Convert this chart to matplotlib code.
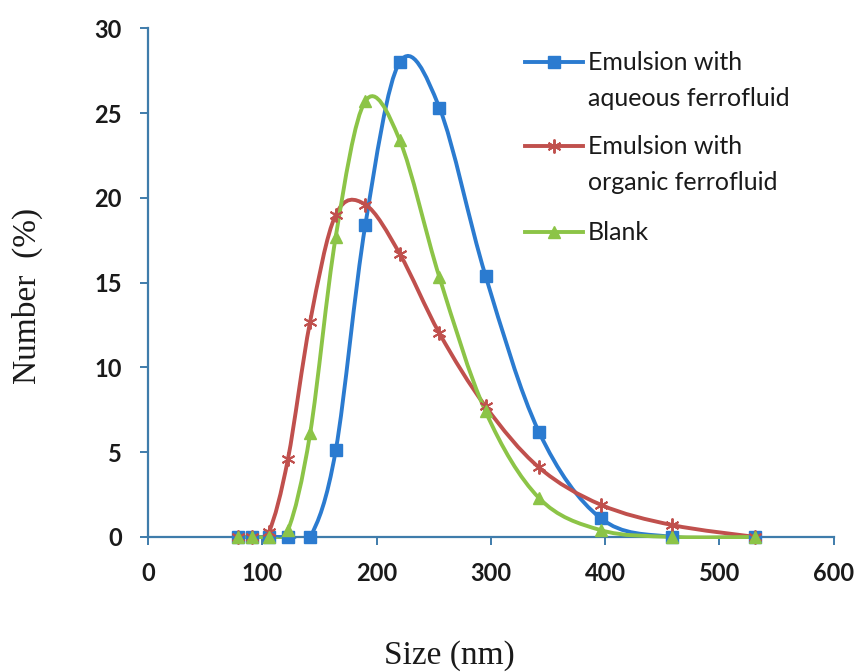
import matplotlib
matplotlib.use('Agg')
import matplotlib.pyplot as plt
from matplotlib.path import Path
from matplotlib.patches import PathPatch, Rectangle

# DLS size bins (nm) and number distributions (%)
sizes = [78.8, 91.3, 105.7, 122.4, 141.8, 164.2, 190.1, 220.2, 255.0, 295.3, 342.0, 396.1, 458.7, 531.2]
aqueous = [0, 0, 0, 0, 0, 5.1, 18.4, 28.0, 25.3, 15.4, 6.2, 1.1, 0, 0]
organic = [0, 0, 0.3, 4.6, 12.7, 19.0, 19.6, 16.7, 12.0, 7.7, 4.1, 1.9, 0.7, 0]
blank = [0, 0, 0, 0.4, 6.1, 17.7, 25.7, 23.4, 15.3, 7.4, 2.3, 0.4, 0, 0]

labels = ['Emulsion with\naqueous ferrofluid', 'Emulsion with\norganic ferrofluid', 'Blank']
colors = ['#2b7bd0', '#c0504d', '#8cc447']
markers = ['s', (6, 2, 0), '^']

axis_color = '#3f7cab'


def smooth_path(xs, ys):
    # Excel-style smoothed line: cubic Bezier through every point
    pts = list(zip(xs, ys))
    verts = [pts[0]]
    codes = [Path.MOVETO]
    n = len(pts)
    for i in range(n - 1):
        p0 = pts[i - 1] if i > 0 else pts[i]
        p1 = pts[i]
        p2 = pts[i + 1]
        p3 = pts[i + 2] if i + 2 < n else pts[i + 1]
        c1 = (p1[0] + (p2[0] - p0[0]) / 6, p1[1] + (p2[1] - p0[1]) / 6)
        c2 = (p2[0] - (p3[0] - p1[0]) / 6, p2[1] - (p3[1] - p1[1]) / 6)
        verts += [c1, c2, p2]
        codes += [Path.CURVE4] * 3
    return Path(verts, codes)


fig = plt.figure(figsize=(8.56, 6.72), dpi=100)
ax = fig.add_axes([0.173, 0.201, 0.801, 0.757])

# keep smoothing overshoot from dipping far below the axis
clip_box = Rectangle((0, -0.12), 600, 31, transform=ax.transData, visible=False)
ax.add_patch(clip_box)

for ys, c, m in zip([aqueous, organic, blank], colors, markers):
    curve = PathPatch(smooth_path(sizes, ys), fill=False, edgecolor=c, lw=2.8, zorder=3)
    ax.add_patch(curve)
    curve.set_clip_path(clip_box)
    if m == (6, 2, 0):
        ax.plot(sizes, ys, ls='none', marker=m, ms=10, mew=1.4, color=c, clip_on=False, zorder=4)
    else:
        ax.plot(sizes, ys, ls='none', marker=m, ms=9, color=c, mec=c, clip_on=False, zorder=4)

ax.set_xlim(0, 600)
ax.set_ylim(0, 30)
ax.set_xticks(range(0, 601, 100))
ax.set_yticks(range(0, 31, 5))

for s in ['top', 'right']:
    ax.spines[s].set_visible(False)
for s in ['left', 'bottom']:
    ax.spines[s].set_color(axis_color)
    ax.spines[s].set_linewidth(1.6)

ax.tick_params(axis='both', direction='out', color=axis_color, width=1.4, length=6,
               labelcolor='#1a1a1a')
ax.tick_params(axis='y', pad=13)
ax.tick_params(axis='x', pad=12)
for lab in ax.get_xticklabels() + ax.get_yticklabels():
    lab.set_fontfamily('Lato')
    lab.set_fontweight('bold')
    lab.set_fontsize(17)

ax.set_xlabel('Size (nm)', fontfamily='Liberation Serif', fontsize=24, color='#1a1a1a')
ax.set_ylabel('Number  (%)', fontfamily='Liberation Serif', fontsize=24, color='#1a1a1a')
ax.xaxis.set_label_coords(0.439, -0.203)
ax.yaxis.set_label_coords(-0.153, 0.473)

# legend drawn by hand so the handle sits on the first text line
legend_rows = [0.933, 0.768, 0.599]
for lab, c, m, yrow in zip(labels, colors, markers, legend_rows):
    ax.plot([0.5496, 0.634], [yrow, yrow], transform=ax.transAxes, color=c, lw=2.8,
            clip_on=False, zorder=5)
    if m == (6, 2, 0):
        ax.plot([0.592], [yrow], transform=ax.transAxes, ls='none', marker=m, ms=10, mew=1.4,
                color=c, clip_on=False, zorder=6)
    else:
        ax.plot([0.592], [yrow], transform=ax.transAxes, ls='none', marker=m, ms=9,
                color=c, clip_on=False, zorder=6)
    for k, line in enumerate(lab.split('\n')):
        ax.text(0.641, yrow - k * 0.0707, line, transform=ax.transAxes, fontfamily='Lato',
                fontsize=18, color='#1a1a1a', va='center', ha='left')

fig.savefig('out.png', dpi=100)
